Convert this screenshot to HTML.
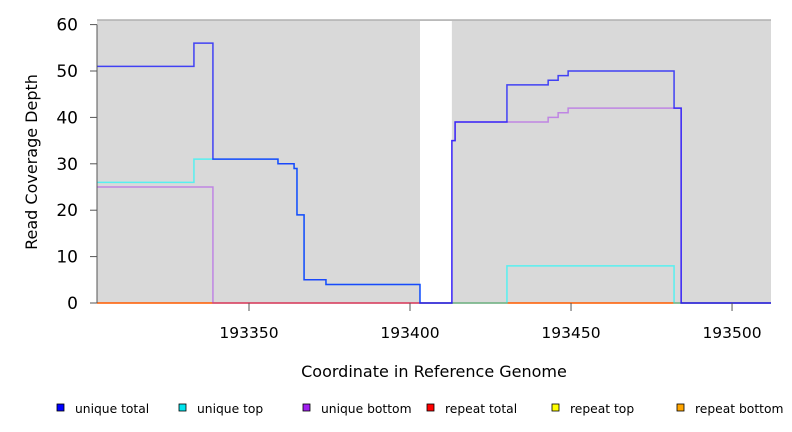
<!DOCTYPE html>
<html><head><meta charset="utf-8"><style>
body{margin:0;background:#fff;}
svg{display:block;font-family:"DejaVu Sans","Liberation Sans",sans-serif;}
</style></head><body>
<svg id="chart" width="792" height="432">
<g id="plot"></g>
<g id="axes"></g>
<g id="legend"></g>
</svg>
<script>
const breaks = [193302.8,193332.9,193338.8,193359.0,193364.0,193364.9,193367.1,193373.9,193403.1,193413.0,193414.0,193430.1,193442.9,193446.0,193449.1,193482.0,193484.2,193512.1];
const uniqueTotal  = [51,56,31,30,29,19,5,4,0,35,39,47,48,49,50,42,0];
const uniqueTop    = [26,31,31,30,29,19,5,4,0,0,0,8,8,8,8,0,0];
const uniqueBottom = [25,25,0,0,0,0,0,0,0,35,39,39,40,41,42,42,0];
const repeatTotal  = [0,0,0,0,0,0,0,0,0,0,0,0,0,0,0,0,0];
const gapRange = [193403.1,193413.0];
const xTicks = [193350,193400,193450,193500];
const yTicks = [0,10,20,30,40,50,60];
const legendLabels = ["unique total","unique top","unique bottom","repeat total","repeat top","repeat bottom"];
const legendColors = ["#0000ff","#00e5ee","#a020f0","#ff0000","#ffff00","#ffa500"];

const X0=97,X1=771,Y0=303,YT=20;
const xMin=193302.8,xMax=193512.1;
const xs=v=>X0+(v-xMin)/(xMax-xMin)*(X1-X0);
const ys=v=>Y0-v*(Y0-71)/50;
const NS="http://www.w3.org/2000/svg";
function mk(t,a,p){const e=document.createElementNS(NS,t);for(const k in a)e.setAttribute(k,a[k]);p.appendChild(e);return e;}
const plot=document.getElementById('plot'),axes=document.getElementById('axes'),leg=document.getElementById('legend');

let bg=mk('rect',{x:X0,y:YT,width:X1-X0,height:Y0-YT,fill:'#d9d9d9'},plot);


let gap=mk('rect',{x:xs(gapRange[0]),y:YT+1,width:xs(gapRange[1])-xs(gapRange[0]),height:Y0-YT-1,fill:'#fff'},plot);


mk('line',{x1:X0,x2:X1,y1:YT,y2:YT,stroke:'#b0b0b0','stroke-width':1.5},plot);

function stepPath(vals){
  let d='M'+xs(breaks[0])+','+ys(vals[0]);
  for(let i=0;i<vals.length;i++){
    d+=' L'+xs(breaks[i+1])+','+ys(vals[i]);
    if(i+1<vals.length)d+=' L'+xs(breaks[i+1])+','+ys(vals[i+1]);
  }
  return d;
}
const series=[[repeatTotal,'#ffa500','repeat-bottom-line',0.9],[repeatTotal,'#ff0000','repeat-total-line',0.45],[uniqueTop,'#00ffff','unique-top-line',0.6],[uniqueBottom,'#a020f0','unique-bottom-line',0.45],[uniqueTotal,'#0000ff','unique-total-line',0.7]];
series.forEach(s=>{
  const p=mk('path',{d:stepPath(s[0]),fill:'none',stroke:s[1],'stroke-width':1.5,'stroke-opacity':s[3]},plot);
  
  
});

mk('line',{x1:X0,x2:X0,y1:ys(0),y2:ys(60),stroke:'#555'},axes);
yTicks.forEach(v=>{
  mk('line',{x1:X0-7,x2:X0,y1:ys(v),y2:ys(v),stroke:'#555'},axes);
  const t=mk('text',{x:X0-19,y:ys(v)+6,'text-anchor':'end','font-size':17,fill:'#000'},axes);
  t.textContent=v;
  
  
});
xTicks.forEach(v=>{
  mk('line',{x1:xs(v),x2:xs(v),y1:Y0,y2:Y0+8,stroke:'#555'},axes);
  const t=mk('text',{x:xs(v),y:338,'text-anchor':'middle','font-size':15.5,fill:'#000'},axes);
  t.textContent=v;
  
  
});
let xt=mk('text',{x:434,y:377,'text-anchor':'middle','font-size':16},axes);
xt.textContent='Coordinate in Reference Genome';


let yt=mk('text',{x:0,y:0,'text-anchor':'middle','font-size':16,transform:'translate(37,162) rotate(-90)'},axes);
yt.textContent='Read Coverage Depth';



const lx=[57,179,303,427,552,677];
legendLabels.forEach((l,i)=>{
  const g=mk('g',{},leg);
  
  
  mk('rect',{x:lx[i],y:404,width:7,height:7,fill:legendColors[i],stroke:'#000','stroke-width':0.8},g);
  const t=mk('text',{x:lx[i]+18,y:413,'font-size':12.3},g);
  t.textContent=l;
});
</script>
</body></html>
